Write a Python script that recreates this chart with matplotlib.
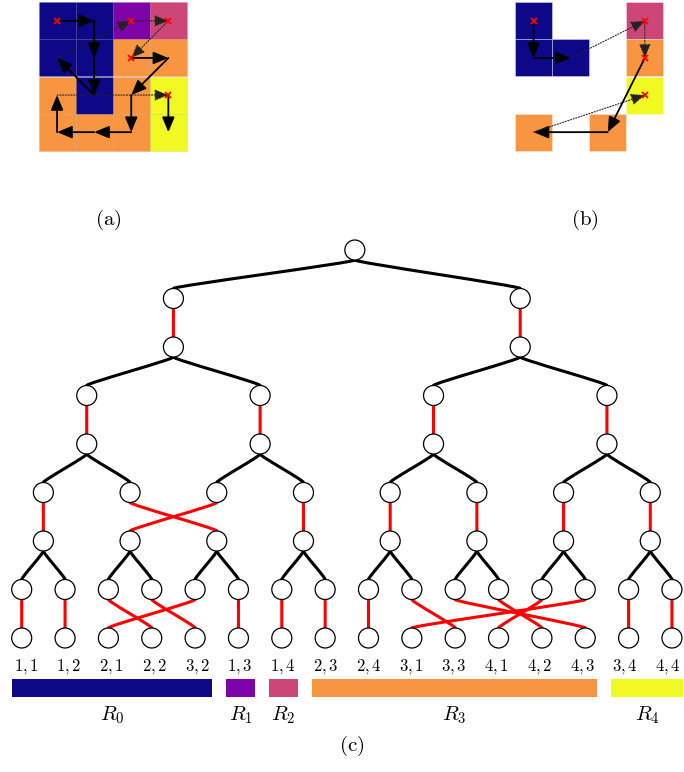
import numpy as np
import matplotlib.pyplot as plt
from matplotlib.patches import Rectangle, Circle, PathPatch
from matplotlib.path import Path

plt.rcParams['mathtext.fontset'] = 'cm'

# regions and colours
region_names = ['R_0', 'R_1', 'R_2', 'R_3', 'R_4']
region_colors = [plt.cm.plasma(v) for v in [0.0, 0.25, 0.5, 0.75, 1.0]]

# (a) region of every cell, rows from the top
grid_a = [[0, 0, 1, 2],
          [0, 0, 3, 3],
          [3, 0, 3, 4],
          [3, 3, 3, 4]]
# order in which the cells are visited (row, col)
path_a = [(1, 1), (1, 2), (2, 2), (3, 2), (2, 1), (1, 3), (1, 4), (2, 3),
          (2, 4), (3, 3), (4, 3), (4, 2), (4, 1), (3, 1), (3, 4), (4, 4)]

# (b) compressed layout
cells_b = [(1, 1), (2, 1), (2, 2), (1, 4), (2, 4), (3, 4), (4, 1), (4, 3)]
cells_b_region = [0, 0, 0, 2, 3, 4, 3, 3]
path_b = [(1, 1), (2, 1), (2, 2), (1, 4), (2, 4), (4, 3), (4, 1), (3, 4)]

# (c) tree
leaf_labels = ['1,1', '1,2', '2,1', '2,2', '3,2', '1,3', '1,4', '2,3',
               '2,4', '3,1', '3,3', '4,1', '4,2', '4,3', '3,4', '4,4']
leaf_region = [0, 0, 0, 0, 0, 1, 2, 3, 3, 3, 3, 3, 3, 3, 4, 4]
red_perms = [[0, 1],
             [0, 1, 2, 3],
             [0, 2, 1, 3, 4, 5, 6, 7],
             [0, 1, 3, 4, 2, 5, 6, 7, 8, 10, 13, 12, 11, 9, 14, 15]]

fig = plt.figure(figsize=(6.84, 7.72), dpi=100)
ax = fig.add_axes([0, 0, 1, 1])
ax.set_xlim(0, 684)
ax.set_ylim(772, 0)
ax.axis('off')

cell = 37.1


def draw_arrow(p, q, dotted=False):
    if dotted:
        ax.annotate('', xy=q, xytext=p,
                    arrowprops=dict(arrowstyle='-|>,head_length=0.6,head_width=0.25',
                                    mutation_scale=14, lw=0.8, ls=(0, (1, 1.5)),
                                    color='#222222', shrinkA=0, shrinkB=0))
    else:
        ax.annotate('', xy=q, xytext=p,
                    arrowprops=dict(arrowstyle='-|>,head_length=0.6,head_width=0.25',
                                    mutation_scale=15, lw=1.3, color='black',
                                    shrinkA=0, shrinkB=0))


def panel(x0, y0, cells, regions, path, edge):
    reg = dict(zip(cells, regions))
    for (r, c), k in reg.items():
        ax.add_patch(Rectangle((x0 + (c - 1) * cell, y0 + (r - 1) * cell), cell, cell,
                               facecolor=region_colors[k], edgecolor=edge, lw=0.5))
    centre = lambda rc: (x0 + (rc[1] - 0.5) * cell, y0 + (rc[0] - 0.5) * cell)
    starts = [path[0]]
    for p, q in zip(path[:-1], path[1:]):
        jump = reg[p] != reg[q]
        draw_arrow(centre(p), centre(q), dotted=jump)
        if jump:
            starts.append(q)
    ax.plot([centre(s)[0] for s in starts], [centre(s)[1] for s in starts], 'x',
            color='red', ms=4.5, mew=1.3, zorder=5)


cells_a = [(r + 1, c + 1) for r in range(4) for c in range(4)]
regions_a = [grid_a[r - 1][c - 1] for r, c in cells_a]
panel(38.5, 2.3, cells_a, regions_a, path_a, (0, 0, 0, 0.07))
panel(515, 2.3, cells_b, cells_b_region, path_b, (1, 1, 1, 0.5))

ax.text(108, 220, r'$\mathrm{(a)}$', fontsize=15, ha='center', va='center')
ax.text(585, 220, r'$\mathrm{(b)}$', fontsize=15, ha='center', va='center')
ax.text(352, 746, r'$\mathrm{(c)}$', fontsize=15, ha='center', va='center')

# tree layout
rad = 10
leaf_x = 21.7 + 43.35 * np.arange(16)
xs = [leaf_x]
while len(xs[0]) > 2:
    xs.insert(0, (xs[0][0::2] + xs[0][1::2]) / 2)
root_x = xs[0].mean() + 8
row_y = 250 + 48.5 * np.arange(9)


def curve(p, q, color):
    h = 2.5
    verts = [(p[0], p[1] + rad), (p[0], p[1] + rad + h),
             (q[0], q[1] - rad - h), (q[0], q[1] - rad)]
    ax.add_patch(PathPatch(Path(verts, [Path.MOVETO, Path.CURVE4, Path.CURVE4, Path.CURVE4]),
                           fill=False, edgecolor=color, lw=2.2, zorder=1,
                           capstyle='round'))


nodes = [(root_x, row_y[0])]
parents = [(root_x, row_y[0])]
for lev, perm in enumerate(red_perms):
    pre_y, post_y = row_y[2 * lev + 1], row_y[2 * lev + 2]
    for j, x in enumerate(xs[lev]):
        par = parents[j // 2] if lev > 0 else parents[0]
        curve(par, (x, pre_y), 'black')
        nodes.append((x, pre_y))
    for i, tgt in enumerate(perm):
        curve((xs[lev][i], pre_y), (xs[lev][tgt], post_y), 'red')
    parents = [(x, post_y) for x in xs[lev]]
    nodes += parents

for x, y in nodes:
    ax.add_patch(Circle((x, y), rad, facecolor='white', edgecolor='black', lw=0.9, zorder=2))

# leaf labels and region bars
label_x = np.linspace(26, 668, 16)
for x, lab in zip(label_x, leaf_labels):
    ax.text(x, 667, '$' + lab + '$', fontsize=12, ha='center', va='center')
for k, name in enumerate(region_names):
    idx = [i for i, r in enumerate(leaf_region) if r == k]
    left = label_x[idx[0]] - 14
    right = label_x[idx[-1]] + 15
    ax.add_patch(Rectangle((left, 679), right - left, 18, facecolor=region_colors[k],
                           edgecolor='none'))
    ax.text((left + right) / 2, 715, '$' + name + '$', fontsize=15, ha='center', va='center')

fig.savefig('out.png', dpi=100)
